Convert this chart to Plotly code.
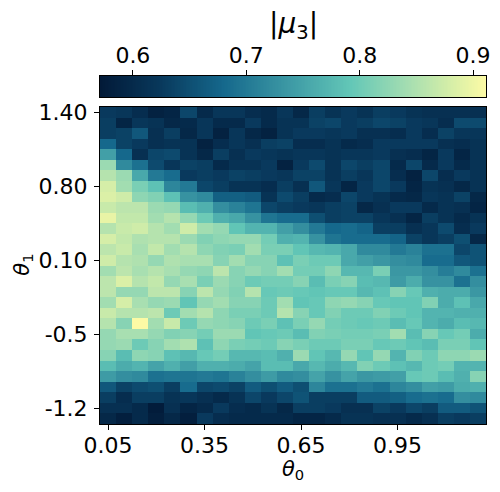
import plotly.graph_objects as go

theta0 = [round(0.05 + 0.05 * i, 2) for i in range(24)]
rows = list(range(30))
xtick_vals = [0.05, 0.35, 0.65, 0.95]
xtick_text = ["0.05", "0.35", "0.65", "0.95"]
ytick_vals = [0, 7, 14, 21, 28]
ytick_text = ["1.40", "0.80", "0.10", "-0.5", "-1.2"]
cbar_ticks = [0.6, 0.7, 0.8, 0.9]
cbar_text = ["0.6", "0.7", "0.8", "0.9"]
vmin = 0.571
vmax = 0.9114

left = [
[.625,.62,.605,.585,.59,.64,.60,.62,.62,.605,.60,.62],
[.63,.59,.62,.615,.595,.60,.62,.60,.60,.625,.60,.615],
[.63,.635,.66,.61,.63,.595,.62,.585,.62,.595,.585,.615],
[.68,.635,.625,.61,.615,.615,.585,.605,.62,.61,.63,.635],
[.745,.68,.61,.64,.645,.615,.595,.63,.61,.625,.62,.615],
[.835,.72,.69,.645,.62,.635,.63,.60,.615,.615,.625,.585],
[.855,.835,.755,.70,.685,.625,.63,.625,.635,.63,.625,.62],
[.88,.84,.81,.785,.715,.70,.64,.63,.615,.615,.605,.63],
[.885,.875,.825,.815,.785,.73,.72,.67,.67,.665,.615,.645],
[.87,.86,.86,.835,.83,.78,.765,.725,.71,.695,.64,.63],
[.895,.865,.865,.84,.855,.83,.80,.765,.755,.73,.695,.685],
[.855,.87,.875,.855,.84,.875,.84,.83,.79,.77,.77,.745],
[.88,.865,.85,.855,.855,.835,.815,.825,.83,.83,.805,.765],
[.86,.87,.845,.865,.84,.855,.825,.815,.81,.84,.81,.81],
[.875,.855,.85,.83,.85,.845,.845,.82,.84,.82,.82,.785],
[.84,.86,.845,.855,.845,.83,.825,.86,.82,.83,.82,.84],
[.86,.885,.855,.865,.83,.845,.81,.835,.82,.80,.805,.805],
[.86,.83,.83,.86,.86,.82,.86,.83,.815,.855,.795,.80],
[.84,.88,.845,.83,.835,.79,.83,.84,.82,.82,.80,.84],
[.87,.855,.855,.86,.80,.84,.855,.825,.81,.81,.80,.855],
[.855,.82,.911,.84,.87,.80,.83,.825,.82,.80,.81,.785],
[.83,.845,.845,.83,.815,.82,.805,.835,.835,.79,.795,.80],
[.83,.835,.80,.82,.84,.85,.785,.825,.81,.805,.80,.82],
[.82,.78,.825,.82,.785,.775,.795,.805,.775,.775,.78,.765],
[.78,.76,.77,.75,.765,.745,.765,.765,.76,.75,.78,.78],
[.74,.725,.72,.69,.695,.695,.70,.695,.71,.725,.74,.72],
[.66,.635,.645,.65,.63,.685,.64,.645,.635,.665,.65,.665],
[.63,.605,.63,.63,.615,.62,.61,.60,.615,.64,.625,.64],
[.61,.61,.60,.575,.61,.59,.60,.625,.605,.60,.615,.595],
[.595,.58,.60,.58,.595,.58,.625,.605,.60,.60,.60,.60],
]
right = [
[.595,.63,.615,.625,.615,.63,.625,.615,.61,.61,.61,.61],
[.615,.635,.64,.625,.63,.64,.635,.625,.62,.605,.645,.645],
[.625,.625,.62,.625,.61,.61,.605,.625,.605,.635,.62,.62],
[.605,.605,.615,.60,.605,.625,.625,.625,.625,.61,.605,.615],
[.62,.62,.615,.62,.62,.625,.61,.605,.59,.625,.59,.615],
[.625,.645,.615,.64,.63,.64,.60,.64,.60,.625,.60,.615],
[.635,.635,.615,.63,.62,.64,.605,.585,.64,.605,.625,.615],
[.61,.66,.62,.59,.625,.64,.625,.59,.615,.61,.595,.615],
[.63,.60,.605,.64,.625,.615,.60,.595,.62,.615,.635,.595],
[.625,.62,.63,.635,.595,.61,.625,.625,.60,.615,.61,.59],
[.685,.65,.63,.635,.635,.62,.61,.59,.63,.615,.60,.615],
[.725,.70,.68,.685,.675,.63,.63,.61,.62,.645,.605,.625],
[.77,.73,.695,.685,.685,.685,.675,.635,.62,.63,.65,.595],
[.79,.775,.77,.755,.72,.72,.70,.71,.69,.69,.64,.655],
[.81,.80,.80,.755,.745,.735,.725,.72,.685,.685,.66,.655],
[.805,.805,.825,.775,.775,.81,.735,.735,.725,.705,.72,.69],
[.82,.78,.81,.82,.78,.775,.74,.76,.73,.73,.69,.725],
[.795,.79,.795,.795,.775,.785,.82,.795,.765,.76,.76,.735],
[.79,.795,.825,.83,.82,.795,.79,.79,.815,.76,.785,.755],
[.82,.795,.815,.80,.80,.815,.80,.79,.77,.77,.765,.765],
[.81,.83,.805,.80,.795,.80,.78,.795,.77,.76,.78,.775],
[.78,.815,.81,.805,.805,.81,.84,.78,.82,.795,.805,.76],
[.81,.80,.80,.81,.81,.795,.80,.79,.78,.81,.81,.79],
[.835,.79,.775,.83,.79,.83,.77,.815,.80,.825,.825,.835],
[.755,.775,.76,.775,.815,.80,.785,.775,.80,.805,.77,.77],
[.725,.75,.73,.75,.735,.74,.745,.795,.80,.78,.765,.82],
[.65,.715,.69,.69,.70,.69,.715,.725,.745,.74,.76,.765],
[.655,.63,.63,.63,.665,.665,.67,.685,.69,.685,.725,.72],
[.63,.63,.625,.61,.61,.635,.625,.64,.63,.665,.665,.655],
[.59,.59,.60,.615,.615,.61,.61,.60,.61,.63,.625,.63],
]
mu3 = [a + b for a, b in zip(left, right)]

colorscale = [
    [0.0, "#021a38"], [0.15, "#08375a"], [0.32, "#15688c"], [0.5, "#3f9ca6"],
    [0.65, "#63c7b7"], [0.8, "#a6deb1"], [0.9, "#d2eda8"], [1.0, "#fcfaa5"],
]

# colour-key ramp: the axis range itself, drawn as a one-row heatmap
N = 256
ramp_x = [vmin + (vmax - vmin) * (i + 0.5) / N for i in range(N)]

W, H = 500, 492
X0, X1 = 99.5, 486.5
B = 68
PH = H - B          # plot height with t=0
def yfrac(px):
    return (H - B - px) / PH

FONT = "DejaVu Sans"
TICK = 22
axis_style = dict(
    ticks="outside", ticklen=5, tickwidth=1, tickcolor="black",
    showline=True, linecolor="black", linewidth=1, mirror=True,
    showgrid=False, zeroline=False, tickfont=dict(family=FONT, size=TICK, color="black"),
)

fig = go.Figure()
fig.add_trace(go.Heatmap(
    x=theta0, y=rows, z=mu3, zmin=vmin, zmax=vmax, colorscale=colorscale,
    showscale=False, xaxis="x", yaxis="y",
))
fig.add_trace(go.Heatmap(
    x=ramp_x, y=[0], z=[ramp_x], zmin=vmin, zmax=vmax, colorscale=colorscale,
    showscale=False, xaxis="x2", yaxis="y2", hoverinfo="skip",
))
fig.update_layout(
    width=W, height=H, autosize=False,
    paper_bgcolor="white", plot_bgcolor="white",
    margin=dict(l=X0, r=W - X1, t=0, b=B, autoexpand=False),
    font=dict(family=FONT, size=TICK, color="black"),
    xaxis=dict(
        domain=[0, 1], anchor="y", range=[0.025, 1.225], ticklabelstandoff=-3,
        tickvals=xtick_vals, ticktext=xtick_text, automargin=False, **axis_style,
    ),
    yaxis=dict(
        domain=[0, yfrac(107)], anchor="x", range=[29.5, -0.5], ticklabelstandoff=2,
        tickvals=ytick_vals, ticktext=ytick_text, automargin=False, **axis_style,
    ),
    xaxis2=dict(
        domain=[0, 1], anchor="y2", side="top", range=[vmin, vmax], ticklabelstandoff=-2,
        tickvals=cbar_ticks, ticktext=cbar_text, automargin=False, **axis_style,
    ),
    yaxis2=dict(
        domain=[yfrac(97), yfrac(76)], anchor="x2", range=[-0.5, 0.5],
        showticklabels=False, ticks="", showline=True, linecolor="black", linewidth=1,
        mirror=True, showgrid=False, zeroline=False, automargin=False,
    ),
    annotations=[
        dict(text="|<i>μ</i><sub>3</sub>|", x=0.5, y=yfrac(25), xref="paper", yref="paper",
             xanchor="center", yanchor="middle", showarrow=False,
             font=dict(family=FONT, size=28, color="black")),
        dict(text="<i>θ</i><sub>0</sub>", x=0.5, y=yfrac(470), xref="paper", yref="paper",
             xanchor="center", yanchor="middle", showarrow=False,
             font=dict(family=FONT, size=21, color="black")),
        dict(text="<i>θ</i><sub>1</sub>", x=(22 - X0) / (X1 - X0), y=yfrac(265), xref="paper", yref="paper",
             xanchor="center", yanchor="middle", showarrow=False, textangle=-90,
             font=dict(family=FONT, size=21, color="black")),
    ],
)
fig.write_html(
    "out.html",
    config={"displayModeBar": False},
    post_script="document.body.style.margin='0';document.body.style.overflow='hidden';",
)
